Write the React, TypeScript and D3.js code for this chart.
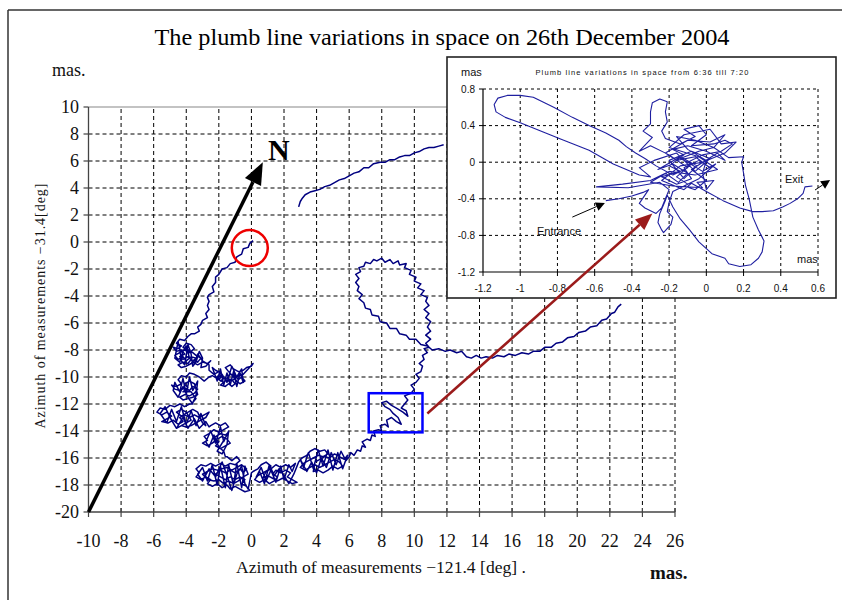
import React from "react";
import * as d3 from "d3";

type P = [number, number];

// ---------- axis ticks ----------
const mainXTicks = [-10, -8, -6, -4, -2, 0, 2, 4, 6, 8, 10, 12, 14, 16, 18, 20, 22, 24, 26];
const mainYTicks = [-20, -18, -16, -14, -12, -10, -8, -6, -4, -2, 0, 2, 4, 6, 8, 10];
const insetXTicks = [-1.2, -1, -0.8, -0.6, -0.4, -0.2, 0, 0.2, 0.4, 0.6];
const insetXLabels = ["-1.2", "-1", "-0.8", "-0.6", "-0.4", "-0.2", "0", "0.2", "0.4", "0.6"];
const insetYTicks = [-1.2, -0.8, -0.4, 0, 0.4, 0.8];
const insetYLabels = ["-1.2", "-0.8", "-0.4", "0", "0.4", "0.8"];

// ---------- main trajectory (mas) ----------
const approach: P[] = [
  [0.1, 0.1], [-0.1, -0.1], [-0.2, -0.4], [-0.5, -0.5], [-0.6, -0.9], [-0.9, -1.1], [-1.0, -1.5], [-1.3, -1.6],
  [-1.5, -1.9], [-1.8, -2.0], [-2.0, -2.4], [-2.2, -2.6], [-2.2, -3.0], [-2.4, -3.3], [-2.3, -3.7], [-2.6, -3.9],
  [-2.7, -4.1], [-2.6, -4.4], [-2.7, -4.7], [-2.6, -5.0], [-2.8, -5.3], [-2.7, -5.6], [-3.0, -5.8], [-3.1, -6.1],
  [-3.3, -6.3], [-3.2, -6.6], [-3.5, -6.8], [-3.7, -6.8],
];
const clusterA: P[] = [
  [-3.9, -7.0], [-4.1, -7.3], [-4.4, -7.2], [-4.6, -7.5], [-4.3, -7.7], [-4.5, -7.9], [-4.8, -7.8], [-4.6, -8.1],
  [-4.3, -8.0], [-4.1, -8.3], [-4.4, -8.5], [-4.2, -8.7], [-3.9, -8.5], [-3.7, -8.7], [-3.9, -9.0], [-4.2, -8.9],
  [-4.5, -9.1], [-4.3, -9.3], [-4.0, -9.2], [-3.7, -9.0], [-3.5, -8.7], [-3.3, -8.9], [-3.1, -8.6], [-3.4, -8.4],
  [-3.6, -8.2], [-3.9, -8.0], [-4.2, -7.8], [-4.0, -7.5], [-3.7, -7.6], [-3.5, -7.9], [-3.8, -8.2], [-4.1, -8.0],
  [-4.4, -8.2], [-4.7, -8.4], [-4.5, -8.7], [-4.2, -8.5], [-4.0, -8.8], [-3.7, -8.5], [-3.4, -8.6], [-3.6, -8.9],
  [-3.3, -9.1], [-3.0, -8.9], [-2.7, -9.0], [-2.5, -8.8], [-2.8, -9.2], [-3.1, -9.3],
];
const crossA: P[] = [
  [-3.0, -8.6], [-3.2, -8.1], [-3.4, -8.9], [-3.6, -9.2], [-3.7, -8.3], [-3.9, -7.6], [-4.0, -8.4], [-4.1, -9.1],
  [-4.3, -8.8], [-4.4, -7.9], [-4.5, -7.4], [-4.6, -8.0], [-4.7, -8.6], [-4.4, -8.9], [-4.2, -8.1], [-4.0, -7.7],
  [-3.8, -8.6], [-3.5, -9.0], [-3.3, -8.3], [-3.0, -8.8], [-2.6, -9.1],
];
const clusterB: P[] = [
  [-2.6, -9.5], [-2.3, -9.8], [-2.0, -9.6], [-1.8, -9.9], [-2.0, -10.2], [-1.7, -10.4], [-1.9, -10.6], [-1.6, -10.7],
  [-1.4, -10.5], [-1.2, -10.7], [-1.0, -10.5], [-1.2, -10.2], [-1.5, -10.1], [-1.3, -9.8], [-1.0, -9.9], [-0.8, -10.2],
  [-0.6, -10.0], [-0.4, -10.3], [-0.7, -10.5], [-0.9, -10.3], [-1.1, -10.0], [-1.4, -9.6], [-1.6, -9.3], [-1.3, -9.1],
  [-1.1, -9.4], [-0.8, -9.6], [-0.5, -9.5], [-0.3, -9.3], [0.0, -9.2], [0.1, -9.0], [-0.2, -9.4], [-0.5, -9.8],
  [-0.8, -9.9], [-1.1, -10.2], [-1.4, -10.3], [-1.7, -10.1], [-1.9, -10.3], [-2.1, -10.0], [-1.9, -9.7], [-2.2, -9.5],
];
const crossB: P[] = [
  [-2.4, -9.3], [-2.1, -10.3], [-1.9, -9.4], [-1.7, -10.6], [-1.5, -9.7], [-1.3, -10.6], [-1.1, -9.6], [-0.9, -10.7],
  [-0.7, -9.7], [-0.5, -10.4], [-0.6, -9.4], [-0.9, -10.0], [-1.2, -9.2], [-1.5, -10.4], [-1.8, -9.8], [-2.1, -10.1],
  [-2.4, -9.9],
];
const clusterC: P[] = [
  [-2.6, -10.0], [-2.9, -10.3], [-3.2, -10.0], [-3.5, -9.8], [-3.8, -9.7], [-4.0, -10.0], [-4.3, -9.9], [-4.5, -10.2],
  [-4.3, -10.5], [-4.6, -10.7], [-4.9, -10.6], [-4.7, -10.9], [-4.4, -11.0], [-4.1, -10.8], [-3.8, -11.0], [-3.6, -10.7],
  [-3.3, -10.9], [-3.5, -11.2], [-3.8, -11.4], [-4.1, -11.3], [-4.4, -11.5], [-4.2, -11.7], [-3.9, -11.6], [-3.6, -11.5],
  [-3.3, -11.3], [-3.5, -10.5], [-3.8, -10.3], [-4.1, -10.5], [-3.9, -10.8], [-4.2, -11.1], [-3.7, -11.1], [-3.4, -11.6],
  [-3.6, -11.9],
];
const crossC: P[] = [
  [-3.4, -11.4], [-3.3, -10.3], [-3.6, -11.0], [-3.8, -10.0], [-4.0, -11.3], [-4.2, -10.1], [-4.4, -11.1], [-4.7, -10.4],
  [-4.8, -11.0], [-4.5, -11.5], [-4.2, -10.7], [-3.9, -11.5], [-3.6, -12.0],
];
const clusterD: P[] = [
  [-3.8, -12.0], [-4.1, -12.2], [-4.4, -12.0], [-4.7, -12.2], [-5.0, -12.1], [-5.3, -12.4], [-5.6, -12.3], [-5.8, -12.6],
  [-5.5, -12.8], [-5.2, -12.6], [-4.9, -12.9], [-5.2, -13.1], [-5.5, -13.3], [-5.1, -13.4], [-4.8, -13.2], [-4.5, -13.5],
  [-4.2, -13.3], [-4.4, -13.0], [-4.1, -12.8], [-3.8, -13.0], [-3.5, -12.8], [-3.2, -13.0], [-2.9, -12.8], [-2.6, -12.6],
  [-2.8, -13.0], [-3.1, -13.2], [-3.4, -13.4], [-3.7, -13.6], [-4.0, -13.7], [-4.3, -13.6], [-4.6, -13.8], [-4.0, -13.4],
  [-3.7, -13.2], [-4.0, -12.6], [-4.3, -12.4], [-4.6, -12.6], [-4.3, -12.9], [-3.6, -12.4], [-3.3, -12.6], [-3.0, -13.4],
  [-2.8, -13.6],
];
const crossD: P[] = [
  [-3.1, -12.7], [-3.4, -13.6], [-3.7, -12.5], [-4.0, -13.5], [-4.3, -12.2], [-4.6, -13.3], [-4.9, -12.4], [-5.2, -13.4],
  [-5.6, -12.7], [-5.3, -12.2], [-5.0, -13.0], [-4.6, -13.8], [-4.2, -13.0], [-3.9, -13.8], [-3.5, -13.1], [-3.2, -13.8],
  [-2.8, -13.3], [-2.6, -13.7],
];
const clusterE: P[] = [
  [-2.5, -13.6], [-2.2, -13.4], [-1.9, -13.6], [-1.6, -13.4], [-1.4, -13.7], [-1.7, -13.9], [-2.0, -14.1], [-2.3, -13.9],
  [-2.6, -14.2], [-2.9, -14.4], [-2.7, -14.7], [-3.0, -14.9], [-2.7, -15.1], [-2.4, -14.9], [-2.1, -14.6], [-1.8, -14.4],
  [-1.5, -14.6], [-1.3, -14.9], [-1.6, -15.1], [-1.9, -15.3], [-2.2, -15.1], [-2.0, -14.8], [-2.3, -14.5], [-1.9, -14.2],
  [-1.6, -14.3], [-1.4, -14.1], [-1.7, -14.7], [-2.1, -15.5], [-1.8, -15.7],
];
const crossE: P[] = [
  [-1.5, -15.0], [-1.4, -14.0], [-1.7, -14.8], [-1.9, -13.7], [-2.2, -14.9], [-2.5, -14.0], [-2.8, -14.8], [-2.6, -15.2],
  [-2.3, -14.3], [-2.0, -15.2], [-1.7, -15.5], [-1.6, -15.9],
];
const clusterF: P[] = [
  [-1.5, -15.9], [-1.2, -16.2], [-0.9, -15.9], [-0.7, -16.2], [-1.0, -16.5], [-1.3, -16.4], [-1.6, -16.6], [-1.9, -16.4],
  [-2.2, -16.6], [-2.5, -16.4], [-2.8, -16.6], [-3.1, -16.5], [-3.4, -16.8], [-3.2, -17.1], [-3.4, -17.4], [-3.1, -17.6],
  [-2.8, -17.4], [-2.5, -17.6], [-2.7, -17.9], [-2.4, -18.1], [-2.1, -17.9], [-1.8, -18.2], [-1.5, -18.0], [-1.3, -18.3],
  [-1.0, -18.1], [-0.7, -18.3], [-0.4, -18.5], [-0.1, -18.4], [-0.3, -18.1], [-0.6, -17.9], [-0.4, -17.6], [-0.7, -17.4],
  [-1.0, -17.6], [-1.3, -17.4], [-1.6, -17.6], [-1.9, -17.4], [-2.2, -17.2], [-1.9, -16.9], [-1.6, -17.1], [-1.3, -16.9],
  [-1.0, -17.1], [-0.7, -16.8], [-0.5, -17.1], [-0.3, -16.8], [-0.6, -16.5], [-0.9, -16.7], [-1.2, -16.9], [-1.5, -16.7],
  [-1.8, -16.8], [-2.1, -16.9], [-2.4, -16.8], [-2.7, -17.0], [-3.0, -17.2], [-2.7, -17.6], [-2.3, -17.7], [-2.0, -17.6],
  [-1.7, -17.9], [-1.4, -17.7], [-1.1, -17.9], [-0.8, -17.7], [-0.5, -17.4], [-0.2, -17.2],
];
const crossF: P[] = [
  [-0.4, -16.6], [-0.6, -18.2], [-0.9, -16.4], [-1.1, -18.0], [-1.4, -16.5], [-1.6, -18.2], [-1.9, -16.6], [-2.1, -18.0],
  [-2.4, -16.5], [-2.7, -17.7], [-3.0, -16.7], [-3.3, -17.2], [-3.0, -17.7], [-2.6, -16.8], [-2.2, -17.4], [-1.8, -16.3],
  [-1.5, -17.3], [-1.2, -18.4], [-0.9, -17.2], [-0.6, -16.6], [-0.4, -17.9], [-0.2, -18.3], [0.0, -17.1],
];
const clusterG: P[] = [
  [0.1, -17.0], [0.4, -16.8], [0.6, -16.5], [0.9, -16.3], [1.2, -16.6], [1.0, -16.9], [0.7, -17.1], [0.4, -17.3],
  [0.2, -17.6], [0.5, -17.8], [0.8, -17.6], [1.1, -17.9], [1.4, -17.7], [1.6, -17.4], [1.3, -17.2], [1.5, -16.9],
  [1.8, -17.1], [2.1, -16.9], [2.4, -17.1], [2.2, -17.4], [2.5, -17.6], [2.8, -17.8], [2.5, -17.9], [2.2, -17.7],
  [1.9, -17.5], [1.6, -17.7], [1.3, -17.5], [1.0, -17.3], [0.7, -17.5], [0.9, -17.0], [1.2, -16.8], [1.5, -16.5],
  [1.8, -16.7], [2.1, -16.5], [2.4, -16.7], [2.7, -16.4],
];
const crossG: P[] = [
  [2.5, -17.0], [2.3, -16.5], [2.0, -17.6], [1.8, -16.6], [1.5, -17.8], [1.2, -16.9], [0.9, -17.7], [0.6, -16.7],
  [0.3, -17.4], [0.5, -17.0], [0.8, -17.9], [1.1, -16.5], [1.4, -17.3], [1.7, -16.8], [2.0, -17.3], [2.3, -17.9],
  [2.6, -17.2], [2.8, -16.6],
];
const clusterH: P[] = [
  [2.9, -16.3], [3.1, -16.0], [3.4, -15.8], [3.6, -15.5], [3.9, -15.3], [4.2, -15.5], [4.5, -15.4], [4.7, -15.7],
  [4.4, -15.9], [4.1, -15.8], [3.8, -16.0], [3.5, -16.2], [3.2, -16.4], [3.0, -16.7], [3.3, -16.9], [3.6, -16.7],
  [3.9, -16.5], [4.2, -16.7], [4.5, -16.5], [4.8, -16.3], [5.1, -16.1], [5.4, -16.3], [5.6, -16.6], [5.3, -16.8],
  [5.0, -16.6], [4.7, -16.9], [4.4, -17.1], [4.1, -16.9], [3.8, -17.0], [3.9, -16.3], [4.2, -16.1], [4.5, -15.9],
  [4.8, -16.0], [5.1, -15.7], [5.4, -15.9], [5.7, -16.1], [5.9, -15.8],
];
const crossH: P[] = [
  [5.6, -16.8], [5.3, -15.6], [5.0, -16.9], [4.7, -15.4], [4.4, -16.6], [4.1, -15.4], [3.8, -16.8], [3.5, -15.6],
  [3.2, -16.7], [3.0, -16.1], [3.4, -17.0], [3.7, -16.3], [4.0, -17.1], [4.3, -16.0], [4.6, -16.7], [4.9, -15.6],
  [5.2, -16.5], [5.5, -15.5], [5.8, -16.2], [6.0, -15.9],
];
const rise: P[] = [
  [6.1, -15.6], [6.3, -15.8], [6.5, -15.4], [6.7, -15.5], [6.8, -15.1], [7.0, -15.2], [6.8, -14.8], [7.1, -14.6],
  [7.3, -14.7], [7.4, -14.3], [7.6, -14.4], [7.5, -14.0], [7.8, -13.9], [8.0, -14.0], [7.9, -13.6], [8.2, -13.5],
  [8.4, -13.7], [8.3, -13.2], [8.6, -13.0], [8.9, -13.3], [9.2, -13.5], [9.0, -13.0], [8.7, -12.7], [8.5, -12.4],
  [8.2, -12.2], [8.0, -11.9], [8.3, -11.8], [8.6, -12.1], [8.9, -12.3], [9.3, -12.6], [9.6, -12.9], [9.5, -12.5],
  [9.2, -12.3], [9.4, -12.0], [9.6, -11.7], [9.4, -11.4], [9.8, -11.2], [10.0, -10.9], [9.8, -10.6], [10.1, -10.4],
  [10.3, -10.1], [10.1, -9.8], [10.4, -9.6], [10.5, -9.2], [10.3, -9.0], [10.6, -8.7], [10.5, -8.4], [10.8, -8.2],
  [10.6, -7.9], [10.9, -7.8],
];
const loop: P[] = [
  [10.7, -7.5], [11.0, -7.2], [10.7, -6.9], [11.0, -6.6], [10.8, -6.3], [11.0, -5.9], [10.7, -5.6], [10.9, -5.3],
  [10.6, -5.0], [10.9, -4.7], [10.7, -4.4], [10.8, -4.1], [10.4, -3.9], [10.6, -3.6], [10.2, -3.4], [10.4, -3.1],
  [10.0, -2.9], [10.1, -2.6], [9.7, -2.4], [9.8, -2.1], [9.4, -1.9], [9.5, -1.6], [9.1, -1.7], [9.0, -1.4],
  [8.7, -1.6], [8.5, -1.3], [8.2, -1.5], [8.0, -1.2], [7.7, -1.4], [7.5, -1.3], [7.3, -1.6], [7.0, -1.5],
  [6.9, -1.8], [6.6, -1.9], [6.7, -2.2], [6.4, -2.4], [6.6, -2.7], [6.4, -3.0], [6.6, -3.3], [6.5, -3.6],
  [6.8, -3.9], [6.6, -4.2], [6.9, -4.5], [7.0, -4.9], [7.3, -5.0], [7.4, -5.4], [7.8, -5.5], [7.9, -5.9],
  [8.3, -6.0], [8.5, -6.4], [8.9, -6.4], [9.1, -6.8], [9.5, -6.9], [9.7, -7.2], [10.1, -7.2], [10.4, -7.6],
  [10.8, -7.7], [11.1, -8.0],
];
const exitEast: P[] = [
  [11.5, -7.9], [11.9, -8.1], [12.2, -8.0], [12.6, -8.2], [12.9, -8.1], [13.2, -8.5], [13.5, -8.6], [13.8, -8.4],
  [14.1, -8.6], [14.4, -8.5], [14.8, -8.6], [15.1, -8.4], [15.5, -8.5], [15.8, -8.3], [16.2, -8.4], [16.6, -8.2],
  [17.0, -8.3], [17.3, -8.1], [17.7, -8.1], [18.0, -7.8], [18.4, -7.8], [18.7, -7.5], [19.1, -7.4], [19.4, -7.1],
  [19.8, -7.0], [20.1, -6.7], [20.5, -6.6], [20.8, -6.3], [21.2, -6.2], [21.5, -5.8], [21.8, -5.7], [22.1, -5.3],
  [22.3, -5.2], [22.5, -4.8], [22.7, -4.6],
];
const northTrack: P[] = [
  [2.9, 2.6], [3.0, 3.0], [3.1, 3.2], [3.3, 3.5], [3.6, 3.7], [3.9, 3.8], [4.2, 3.9], [4.5, 4.1], [4.8, 4.2],
  [5.1, 4.4], [5.4, 4.6], [5.7, 4.7], [6.0, 4.9], [6.3, 5.1], [6.6, 5.2], [6.9, 5.5], [7.2, 5.5], [7.5, 5.8],
  [7.9, 5.9], [8.2, 5.9], [8.5, 6.1], [8.8, 6.1], [9.1, 6.3], [9.4, 6.4], [9.7, 6.4], [10.0, 6.6], [10.3, 6.7],
  [10.6, 6.9], [10.9, 7.0], [11.2, 7.0], [11.5, 7.1], [11.8, 7.2],
];

// ---------- inset trajectory 6:36 - 7:20 (mas) ----------
const insetEntrance: P[] = [
  [-0.54, -0.42], [-0.47, -0.40], [-0.40, -0.37], [-0.34, -0.33], [-0.31, -0.30], [-0.36, -0.45], [-0.33, -0.50],
  [-0.27, -0.56], [-0.24, -0.50], [-0.22, -0.40], [-0.20, -0.30],
];
const insetCore1: P[] = [
  [-0.25, -0.22], [-0.42, -0.28], [-0.59, -0.27], [-0.45, -0.24], [-0.30, -0.20], [-0.22, -0.12], [-0.15, -0.22],
  [-0.10, -0.12], [-0.18, -0.02], [-0.26, -0.08], [-0.14, 0.06], [-0.05, -0.04], [-0.12, -0.18], [-0.20, 0.02],
  [-0.08, 0.12], [0.02, 0.04], [-0.06, -0.10], [-0.16, 0.10], [-0.28, 0.02], [-0.36, -0.06], [-0.30, -0.16],
];
const insetLoop: P[] = [
  [-0.36, -0.14], [-0.50, -0.02], [-0.63, 0.13], [-0.78, 0.25], [-0.90, 0.35], [-1.00, 0.43], [-1.08, 0.49],
  [-1.13, 0.55], [-1.14, 0.63], [-1.12, 0.70], [-1.07, 0.73], [-1.00, 0.73], [-0.93, 0.71], [-0.82, 0.60],
  [-0.72, 0.49], [-0.63, 0.40], [-0.54, 0.32], [-0.47, 0.24], [-0.43, 0.17], [-0.38, 0.10], [-0.33, 0.04],
  [-0.27, -0.04],
];
const insetCore2: P[] = [
  [-0.18, -0.14], [-0.10, -0.06], [-0.20, 0.08], [-0.30, 0.18], [-0.36, 0.12], [-0.29, 0.27], [-0.34, 0.34],
  [-0.30, 0.42], [-0.30, 0.55], [-0.29, 0.65], [-0.25, 0.69], [-0.21, 0.66], [-0.22, 0.55], [-0.21, 0.44],
  [-0.24, 0.34], [-0.22, 0.26],
];
const insetCore3: P[] = [
  [-0.14, 0.20], [-0.06, 0.28], [-0.12, 0.36], [-0.04, 0.40], [0.0, 0.30], [-0.08, 0.18], [0.04, 0.20],
  [0.10, 0.24], [0.14, 0.20], [0.08, 0.12], [-0.02, 0.08], [-0.10, 0.00], [-0.02, -0.10], [0.05, -0.02],
  [-0.04, -0.18], [-0.12, -0.26], [-0.06, -0.30], [0.0, -0.20], [-0.08, -0.08], [0.06, 0.10], [0.10, 0.02],
  [0.0, 0.12], [-0.10, 0.18], [-0.18, 0.14], [-0.12, 0.08], [-0.20, -0.04], [-0.14, -0.10], [-0.24, -0.16],
  [-0.16, -0.24], [-0.08, -0.18], [-0.12, -0.06], [-0.04, 0.02], [0.02, -0.06], [-0.06, 0.06], [-0.16, 0.02],
  [-0.22, 0.10], [-0.10, 0.24], [0.02, 0.22], [0.10, 0.30], [0.04, 0.16], [0.12, 0.05], [0.20, 0.06],
];
const insetSouthLobe: P[] = [
  [0.19, 0.0], [0.20, -0.12], [0.21, -0.25], [0.23, -0.40], [0.25, -0.60], [0.28, -0.74], [0.31, -0.86],
  [0.30, -0.98], [0.28, -1.05], [0.24, -1.12], [0.18, -1.14], [0.12, -1.11], [0.10, -1.05], [0.03, -1.00],
  [-0.04, -0.87], [-0.09, -0.74], [-0.14, -0.62], [-0.18, -0.49], [-0.21, -0.36], [-0.22, -0.42], [-0.25, -0.56],
  [-0.26, -0.66], [-0.24, -0.74], [-0.23, -0.77], [-0.19, -0.68], [-0.18, -0.60], [-0.21, -0.54], [-0.20, -0.44],
  [-0.18, -0.32],
];
const insetCore4: P[] = [
  [-0.10, -0.24], [-0.16, -0.16], [-0.08, -0.02], [-0.14, 0.04], [-0.04, 0.12], [0.04, 0.16], [-0.06, 0.24],
  [-0.16, 0.28], [-0.10, 0.14], [0.0, 0.02], [-0.02, -0.12], [0.0, -0.30], [0.04, -0.20], [-0.05, -0.22],
  [-0.02, -0.28], [-0.18, -0.26], [-0.30, -0.22], [-0.20, -0.10], [-0.06, -0.14], [0.06, -0.08], [-0.04, 0.06],
  [-0.20, 0.16], [-0.12, 0.30], [0.02, 0.36], [0.08, 0.20], [0.16, 0.22], [0.10, 0.10], [-0.02, 0.00],
  [-0.14, -0.04], [-0.24, -0.20], [-0.12, -0.30],
];
const insetExit: P[] = [
  [-0.08, -0.23], [0.0, -0.32], [0.09, -0.42], [0.18, -0.50], [0.25, -0.54], [0.30, -0.54], [0.36, -0.53],
  [0.41, -0.49], [0.45, -0.45], [0.49, -0.40], [0.52, -0.34], [0.53, -0.27], [0.57, -0.26],
];

const mainTrack: P[] = [
  ...approach, ...clusterA, ...crossA, ...clusterB, ...crossB, ...clusterC, ...crossC, ...clusterD, ...crossD,
  ...clusterE, ...crossE, ...clusterF, ...crossF, ...clusterG, ...crossG, ...clusterH, ...crossH,
  ...rise, ...loop, ...exitEast,
];
const insetTrack: P[] = [
  ...insetEntrance, ...insetCore1, ...insetLoop, ...insetCore2, ...insetCore3, ...insetSouthLobe,
  ...insetCore4, ...insetExit,
];

// ---------- annotations (data coordinates) ----------
const northArrow: P[] = [[-10, -20], [0.7, 5.9]];
const markCircle: P = [-0.1, -0.45];
const zoomBox: P[] = [[7.2, -11.2], [10.5, -14.1]];
const linkStartMain: P = [10.8, -12.7];
const linkEndInset: P = [-0.29, -0.56];
const entranceArrow: P[] = [[-0.72, -0.6], [-0.545, -0.445]];
const exitArrow: P[] = [[0.584, -0.304], [0.665, -0.195]];

const SERIF = "'Liberation Serif', 'Times New Roman', serif";
const SANS = "'Liberation Sans', Arial, sans-serif";

function head(x1: number, y1: number, x2: number, y2: number, len: number, hw: number) {
  const a = Math.atan2(y2 - y1, x2 - x1);
  const bx = x2 - len * Math.cos(a);
  const by = y2 - len * Math.sin(a);
  const px = -Math.sin(a) * hw;
  const py = Math.cos(a) * hw;
  return { pts: `${x2},${y2} ${bx + px},${by + py} ${bx - px},${by - py}`, bx, by };
}

export default function App() {
  const x = d3.scaleLinear().domain([-10, 26]).range([88.5, 675]);
  const y = d3.scaleLinear().domain([-20, 10]).range([512, 107]);
  const xi = d3.scaleLinear().domain([-1.2, 0.6]).range([483, 818]);
  const yi = d3.scaleLinear().domain([-1.2, 0.8]).range([272, 89]);

  const mainLine = d3.line<P>().x((d) => x(d[0])).y((d) => y(d[1]));
  const insetLine = d3.line<P>().x((d) => xi(d[0])).y((d) => yi(d[1]));

  const nA = head(x(northArrow[0][0]), y(northArrow[0][1]), x(northArrow[1][0]), y(northArrow[1][1]), 22, 9);
  const rA = head(x(linkStartMain[0]), y(linkStartMain[1]), xi(linkEndInset[0]), yi(linkEndInset[1]), 17, 7);
  const eA = head(xi(entranceArrow[0][0]), yi(entranceArrow[0][1]), xi(entranceArrow[1][0]), yi(entranceArrow[1][1]), 9, 4.5);
  const xA = head(xi(exitArrow[0][0]), yi(exitArrow[0][1]), xi(exitArrow[1][0]), yi(exitArrow[1][1]), 9, 4.5);

  return (
    <svg width={842} height={600} style={{ position: "absolute", left: 0, top: 0, background: "#fff" }}>
      <rect x={0} y={0} width={842} height={600} fill="#fff" />
      {/* outer frame */}
      <line x1={8} y1={10} x2={842} y2={10} stroke="#333" strokeWidth={1.5} />
      <line x1={8} y1={10} x2={8} y2={600} stroke="#333" strokeWidth={1.5} />

      <text x={442} y={45} textAnchor="middle" fontFamily={SERIF} fontSize={24} textLength={575} lengthAdjust="spacingAndGlyphs">
        The plumb line variations in space on 26th December 2004
      </text>

      {/* main grid */}
      {mainXTicks.slice(1).map((t) => (
        <line key={"gx" + t} x1={x(t)} x2={x(t)} y1={y(-20)} y2={y(10)} stroke="#000" strokeWidth={1} strokeDasharray="4,3" />
      ))}
      {mainYTicks.slice(1, -1).map((t) => (
        <line key={"gy" + t} x1={x(-10)} x2={x(26)} y1={y(t)} y2={y(t)} stroke="#000" strokeWidth={1} strokeDasharray="4,3" />
      ))}
      <line x1={x(-10)} x2={x(26)} y1={y(10)} y2={y(10)} stroke="#888" strokeWidth={1.2} />
      {/* axes */}
      <line x1={x(-10)} x2={x(-10)} y1={y(-20)} y2={y(10)} stroke="#444" strokeWidth={1.3} />
      <line x1={x(-10)} x2={x(26)} y1={y(-20)} y2={y(-20)} stroke="#444" strokeWidth={1.3} />
      {mainXTicks.map((t) => (
        <line key={"tx" + t} x1={x(t)} x2={x(t)} y1={y(-20) - 4} y2={y(-20) + 5} stroke="#444" strokeWidth={1.2} />
      ))}
      {mainYTicks.map((t) => (
        <line key={"ty" + t} x1={x(-10) - 5} x2={x(-10)} y1={y(t)} y2={y(t)} stroke="#444" strokeWidth={1.2} />
      ))}
      {mainXTicks.map((t) => (
        <text key={"lx" + t} x={x(t)} y={547} textAnchor="middle" fontFamily={SERIF} fontSize={18} fill="#111">
          {String(t)}
        </text>
      ))}
      {mainYTicks.map((t) => (
        <text key={"ly" + t} x={79} y={y(t) + 6} textAnchor="end" fontFamily={SERIF} fontSize={18} fill="#111">
          {String(t)}
        </text>
      ))}
      <text x={52} y={76} fontFamily={SERIF} fontSize={18} fill="#111">mas.</text>
      <text x={650} y={579} fontFamily={SERIF} fontSize={19} fontWeight="bold" fill="#111">mas.</text>
      <text x={236} y={573} fontFamily={SERIF} fontSize={16} fill="#111" textLength={290} lengthAdjust="spacingAndGlyphs">
        Azimuth of measurements −121.4 [deg] .
      </text>
      <text transform="translate(45,306) rotate(-90)" textAnchor="middle" fontFamily={SERIF} fontSize={14} fill="#111" textLength={245} lengthAdjust="spacing">
        Azimuth of measurements −31.4[deg]
      </text>

      {/* trajectory */}
      <path d={mainLine(mainTrack) || ""} fill="none" stroke="#000080" strokeWidth={1.5} strokeLinejoin="round" />
      <path d={mainLine(northTrack) || ""} fill="none" stroke="#000080" strokeWidth={1.5} strokeLinejoin="round" />

      {/* north arrow */}
      <line x1={x(northArrow[0][0])} y1={y(northArrow[0][1])} x2={nA.bx} y2={nA.by} stroke="#000" strokeWidth={3.5} />
      <polygon points={nA.pts} fill="#000" />
      <text x={268} y={160} fontFamily={SERIF} fontSize={30} fontWeight="bold" fill="#000">N</text>

      {/* marker circle & zoom box */}
      <circle cx={x(markCircle[0])} cy={y(markCircle[1])} r={18} fill="none" stroke="#ee0000" strokeWidth={2.5} />
      <rect x={x(zoomBox[0][0])} y={y(zoomBox[0][1])} width={x(zoomBox[1][0]) - x(zoomBox[0][0])}
        height={y(zoomBox[1][1]) - y(zoomBox[0][1])} fill="none" stroke="#0000ff" strokeWidth={2.5} />

      {/* inset */}
      <rect x={447} y={57} width={389} height={241} fill="#fff" stroke="#222" strokeWidth={1.6} />
      {insetXTicks.slice(1).map((t) => (
        <line key={"igx" + t} x1={xi(t)} x2={xi(t)} y1={yi(-1.2)} y2={yi(0.8)} stroke="#000" strokeWidth={1} strokeDasharray="3,3" />
      ))}
      {insetYTicks.slice(1).map((t) => (
        <line key={"igy" + t} x1={xi(-1.2)} x2={xi(0.6)} y1={yi(t)} y2={yi(t)} stroke="#000" strokeWidth={1} strokeDasharray="3,3" />
      ))}
      <line x1={xi(-1.2)} x2={xi(-1.2)} y1={yi(-1.2)} y2={yi(0.8)} stroke="#000" strokeWidth={1.2} />
      <line x1={xi(-1.2)} x2={xi(0.6)} y1={yi(-1.2)} y2={yi(-1.2)} stroke="#000" strokeWidth={1.2} />
      {insetXTicks.map((t, i) => (
        <g key={"itx" + t}>
          <line x1={xi(t)} x2={xi(t)} y1={yi(-1.2)} y2={yi(-1.2) + 4} stroke="#000" />
          <text x={xi(t)} y={292} textAnchor="middle" fontFamily={SANS} fontSize={10} fill="#111">{insetXLabels[i]}</text>
        </g>
      ))}
      {insetYTicks.map((t, i) => (
        <g key={"ity" + t}>
          <line x1={xi(-1.2) - 4} x2={xi(-1.2)} y1={yi(t)} y2={yi(t)} stroke="#000" />
          <text x={475} y={yi(t) + 3.5} textAnchor="end" fontFamily={SANS} fontSize={10} fill="#111">{insetYLabels[i]}</text>
        </g>
      ))}
      <text x={461} y={76} fontFamily={SANS} fontSize={11} fill="#111">mas</text>
      <text x={797} y={263} fontFamily={SANS} fontSize={11} fill="#111">mas</text>
      <text x={642} y={75} textAnchor="middle" fontFamily={SANS} fontSize={7.5} fill="#111" textLength={213} lengthAdjust="spacing">
        Plumb line variations in space from 6:36 till 7:20
      </text>
      <path d={insetLine(insetTrack) || ""} fill="none" stroke="#1f1fa0" strokeWidth={1.1} strokeLinejoin="round" />
      <text x={785} y={183} fontFamily={SANS} fontSize={11} fill="#111">Exit</text>
      <text x={537} y={235} fontFamily={SANS} fontSize={11} fill="#111">Entrance</text>
      <line x1={xi(entranceArrow[0][0])} y1={yi(entranceArrow[0][1])} x2={eA.bx} y2={eA.by} stroke="#000" strokeWidth={1} />
      <polygon points={eA.pts} fill="#000" />
      <line x1={xi(exitArrow[0][0])} y1={yi(exitArrow[0][1])} x2={xA.bx} y2={xA.by} stroke="#000" strokeWidth={1} />
      <polygon points={xA.pts} fill="#000" />

      {/* link arrow */}
      <line x1={x(linkStartMain[0])} y1={y(linkStartMain[1])} x2={rA.bx} y2={rA.by} stroke="#9b1b1b" strokeWidth={2.5} />
      <polygon points={rA.pts} fill="#9b1b1b" />
    </svg>
  );
}
